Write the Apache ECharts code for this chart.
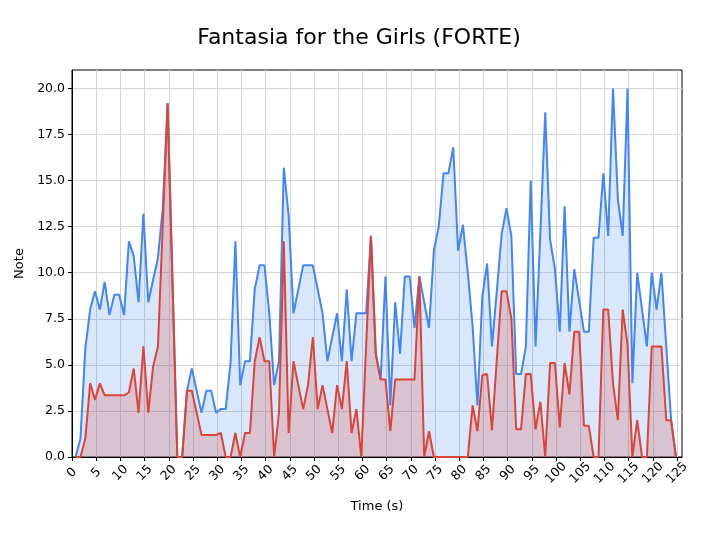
<!DOCTYPE html>
<html>
<head>
<meta charset="utf-8">
<script src="https://cdn.jsdelivr.net/npm/echarts@6/dist/echarts.min.js"></script>
<style>html,body{margin:0;padding:0;background:#fff;}#chart{width:718px;height:538px;}</style>
</head>
<body>
<div id="chart"></div>
<script>
const TITLE = 'Fantasia for the Girls (FORTE)';
const X_NAME = 'Time (s)';
const Y_NAME = 'Note';

const times = [
  0.75, 1.75, 2.75, 3.75, 4.75, 5.75, 6.75, 7.75, 8.75, 9.75,
  10.75, 11.75, 12.75, 13.75, 14.75, 15.75, 16.75, 17.75, 18.75, 19.75,
  20.75, 21.75, 22.75, 23.75, 24.75, 25.75, 26.75, 27.75, 28.75, 29.75,
  30.75, 31.75, 32.75, 33.75, 34.75, 35.75, 36.75, 37.75, 38.75, 39.75,
  40.75, 41.75, 42.75, 43.75, 44.75, 45.75, 46.75, 47.75, 48.75, 49.75,
  50.75, 51.75, 52.75, 53.75, 54.75, 55.75, 56.75, 57.75, 58.75, 59.75,
  60.75, 61.75, 62.75, 63.75, 64.75, 65.75, 66.75, 67.75, 68.75, 69.75,
  70.75, 71.75, 72.75, 73.75, 74.75, 75.75, 76.75, 77.75, 78.75, 79.75,
  80.75, 81.75, 82.75, 83.75, 84.75, 85.75, 86.75, 87.75, 88.75, 89.75,
  90.75, 91.75, 92.75, 93.75, 94.75, 95.75, 96.75, 97.75, 98.75, 99.75,
  100.75, 101.75, 102.75, 103.75, 104.75, 105.75, 106.75, 107.75, 108.75, 109.75,
  110.75, 111.75, 112.75, 113.75, 114.75, 115.75, 116.75, 117.75, 118.75, 119.75,
  120.75, 121.75, 122.75, 123.75, 124.75
];

const blueNotes = [
  0, 1.0, 5.9, 8.0, 9.0, 8.0, 9.5, 7.7, 8.8, 8.8,
  7.7, 11.7, 10.9, 8.4, 13.2, 8.4, 9.6, 10.8, 13.5, 19.2,
  9.6, 0, 0, 3.6, 4.8, 3.6, 2.4, 3.6, 3.6, 2.4,
  2.6, 2.6, 5.1, 11.7, 3.9, 5.2, 5.2, 9.1, 10.4, 10.4,
  7.8, 3.9, 5.2, 15.7, 13.1, 7.8, 9.1, 10.4, 10.4, 10.4,
  9.1, 7.8, 5.2, 6.5, 7.8, 5.2, 9.1, 5.2, 7.8, 7.8,
  7.8, 12.0, 5.6, 4.2, 9.8, 2.8, 8.4, 5.6, 9.8, 9.8,
  7.0, 9.8, 8.4, 7.0, 11.2, 12.5, 15.4, 15.4, 16.8, 11.2,
  12.6, 10.0, 7.1, 2.8, 8.7, 10.5, 6.0, 9.0, 12.1, 13.5,
  12.0, 4.5, 4.5, 6.0, 15.0, 6.0, 12.2, 18.7, 11.8, 10.2,
  6.8, 13.6, 6.8, 10.2, 8.5, 6.8, 6.8, 11.9, 11.9, 15.4,
  12.0, 20.0, 14.0, 12.0, 20.0, 4.0, 10.0, 8.0, 6.0, 10.0,
  8.0, 10.0, 6.0, 2.0, 0
];

const redNotes = [
  0, 0, 1.0, 4.0, 3.1, 4.0, 3.35, 3.35, 3.35, 3.35,
  3.35, 3.5, 4.8, 2.4, 6.0, 2.4, 4.9, 6.0, 12.6, 19.2,
  9.6, 0, 0, 3.6, 3.6, 2.4, 1.2, 1.2, 1.2, 1.2,
  1.3, 0, 0, 1.3, 0, 1.3, 1.3, 5.2, 6.5, 5.2,
  5.2, 0, 2.4, 11.7, 1.3, 5.2, 3.9, 2.6, 3.9, 6.5,
  2.6, 3.9, 2.6, 1.3, 3.9, 2.6, 5.2, 1.3, 2.6, 0,
  6.0, 12.0, 5.6, 4.2, 4.2, 1.4, 4.2, 4.2, 4.2, 4.2,
  4.2, 9.8, 0, 1.4, 0, 0, 0, 0, 0, 0,
  0, 0, 2.8, 1.4, 4.45, 4.5, 1.45, 5.3, 9.0, 9.0,
  7.5, 1.5, 1.5, 4.5, 4.5, 1.5, 3.0, 0, 5.1, 5.1,
  1.6, 5.1, 3.4, 6.8, 6.8, 1.7, 1.7, 0, 0, 8.0,
  8.0, 4.0, 2.0, 8.0, 6.1, 0, 2.0, 0, 0, 6.0,
  6.0, 6.0, 2.0, 2.0, 0
];

const xTicks = [0,5,10,15,20,25,30,35,40,45,50,55,60,65,70,75,80,85,90,95,100,105,110,115,120,125];
const yTicks = [0,2.5,5,7.5,10,12.5,15,17.5,20];

const FONT = 'DejaVu Sans';
const BLUE = '#4285F4';
const RED = '#DB4437';

const chart = echarts.init(document.getElementById('chart'), null, {renderer: 'canvas'});
chart.setOption({
  animation: false,
  backgroundColor: '#ffffff',
  title: {
    text: TITLE, left: 'center', top: 22,
    textStyle: {fontFamily: FONT, fontSize: 22, fontWeight: 'normal', color: '#000'}
  },
  grid: {left: 72, right: 36, top: 70, bottom: 81, show: true, borderColor: '#000', borderWidth: 1, backgroundColor: 'transparent'},
  xAxis: {
    type: 'value', min: 0, max: 126, interval: 5,
    name: X_NAME, nameLocation: 'middle', nameGap: 43,
    nameTextStyle: {fontFamily: FONT, fontSize: 13, color: '#000'},
    axisLine: {show: true, lineStyle: {color: '#000', width: 1}},
    axisTick: {show: true, inside: false, length: 4, lineStyle: {color: '#000'}, customValues: xTicks},
    axisLabel: {
      customValues: xTicks,
      rotate: 45, align: 'center', verticalAlign: 'middle', margin: 16,
      fontFamily: FONT, fontSize: 12.5, color: '#000',
      formatter: v => (xTicks.indexOf(v) >= 0 ? String(v) : '')
    },
    splitLine: {show: true, lineStyle: {color: '#d4d4d4', width: 1}}
  },
  yAxis: {
    type: 'value', min: 0, max: 21, interval: 2.5,
    name: Y_NAME, nameLocation: 'middle', nameGap: 46,
    nameTextStyle: {fontFamily: FONT, fontSize: 13, color: '#000'},
    axisLine: {show: true, lineStyle: {color: '#000', width: 1}},
    axisTick: {show: true, inside: false, length: 4, lineStyle: {color: '#000'}, customValues: yTicks},
    axisLabel: {
      customValues: yTicks,
      margin: 7, fontFamily: FONT, fontSize: 12.5, color: '#000',
      formatter: v => (yTicks.indexOf(v) >= 0 ? v.toFixed(1) : '')
    },
    splitLine: {show: true, lineStyle: {color: '#d4d4d4', width: 1}}
  },
  series: [
    {
      type: 'line', name: 'blue',
      data: times.map((t, i) => [t, blueNotes[i]]),
      showSymbol: false, symbol: 'none',
      lineStyle: {color: BLUE, width: 2},
      areaStyle: {color: BLUE, opacity: 0.2, origin: 'start'},
      z: 2
    },
    {
      type: 'line', name: 'red',
      data: times.map((t, i) => [t, redNotes[i]]),
      showSymbol: false, symbol: 'none',
      lineStyle: {color: RED, width: 2},
      areaStyle: {color: RED, opacity: 0.22, origin: 'start'},
      z: 3
    }
  ]
});
</script>
</body>
</html>
